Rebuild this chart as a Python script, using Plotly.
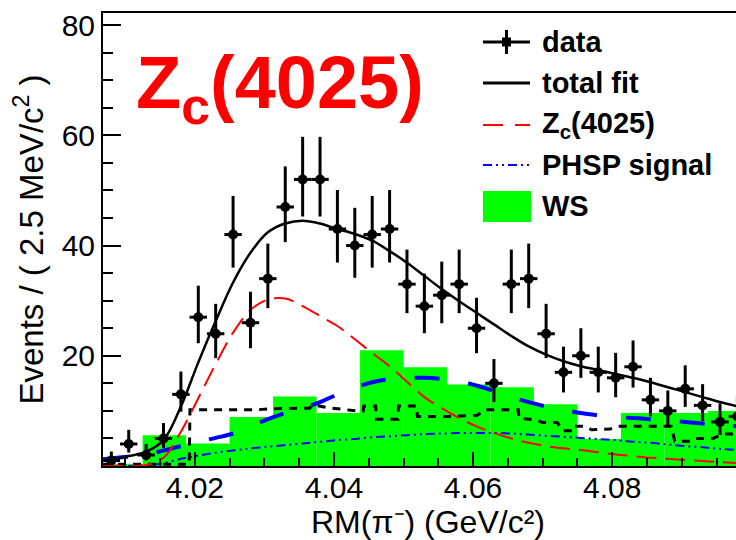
import numpy as np
import plotly.graph_objects as go

# ---- data: RM(pi-) spectrum, 2.5 MeV bins ----
data_x = [4.0080, 4.0105, 4.0130, 4.0155, 4.0180, 4.0205, 4.0230, 4.0255, 4.0280,
          4.0305, 4.0330, 4.0355, 4.0380, 4.0405, 4.0430, 4.0455, 4.0480, 4.0505,
          4.0530, 4.0555, 4.0580, 4.0605, 4.0630, 4.0655, 4.0680, 4.0705, 4.0730,
          4.0755, 4.0780, 4.0805, 4.0830, 4.0855, 4.0880, 4.0905, 4.0930, 4.0955,
          4.0980]
data_n = [1, 4, 2, 5, 13, 27, 24, 42, 26,
          34, 47, 52, 52, 43, 40, 42, 43, 33,
          29, 31, 33, 25, 15, 33, 34, 24, 17,
          20, 17, 16, 18, 12, 10, 14, 11, 8,
          9]

# ---- fit components sampled along RM(pi-) ----
fit_x = [4.0068, 4.0080, 4.0105, 4.0130, 4.0155, 4.0180, 4.0205, 4.0230, 4.0255,
         4.0280, 4.0305, 4.0330, 4.0355, 4.0380, 4.0405, 4.0430, 4.0455, 4.0480,
         4.0505, 4.0530, 4.0555, 4.0580, 4.0605, 4.0630, 4.0655, 4.0680, 4.0705,
         4.0730, 4.0755, 4.0780, 4.0805, 4.0830, 4.0855, 4.0880, 4.0905, 4.0930,
         4.0955, 4.0985]
total_fit = [1.0, 1.2, 1.8, 2.6, 4.7, 10.8, 18.8, 26.3, 33.3,
             38.7, 42.4, 44.0, 44.5, 44.0, 43.0, 42.1, 40.9, 39.0,
             36.9, 34.5, 32.1, 29.9, 27.8, 25.7, 23.6, 21.7, 20.2,
             19.0, 18.1, 17.4, 16.7, 16.0, 15.2, 14.3, 13.4, 12.5,
             11.6, 10.7]
zc_4025 = [0.0, 0.0, 0.0, 0.2, 1.5, 6.2, 12.3, 18.5, 24.2,
           28.3, 30.2, 30.4, 29.0, 27.2, 25.4, 23.0, 20.5, 18.1,
           15.3, 12.5, 10.5, 8.7, 7.2, 6.0, 5.0, 4.2, 3.6,
           3.2, 2.9, 2.5, 2.1, 1.8, 1.5, 1.3, 1.1, 0.9,
           0.7, 0.5]
bkg_total = [1.2, 1.4, 1.7, 2.1, 2.8, 3.6, 4.4, 5.1, 5.9,
             7.2, 8.5, 9.6, 10.5, 11.6, 13.0, 14.2, 15.2, 15.8,
             16.0, 16.0, 15.8, 15.4, 14.6, 13.6, 12.5, 11.6, 10.8,
             10.2, 9.6, 9.2, 8.9, 8.7, 8.5, 8.3, 8.0, 7.7,
             7.4, 7.2]
phsp_signal = [0.0, 0.0, 0.0, 0.1, 0.5, 1.3, 1.9, 2.4, 2.8,
               3.2, 3.5, 3.8, 4.1, 4.4, 4.7, 4.9, 5.2, 5.4,
               5.6, 5.8, 5.9, 6.0, 6.0, 6.0, 5.9, 5.7, 5.5,
               5.3, 5.1, 4.9, 4.7, 4.4, 4.2, 3.9, 3.6, 3.4,
               3.1, 2.9]

# ---- histogram-shaped background template ----
hist_bkg_x = [4.0068, 4.0192, 4.0193, 4.0289, 4.0312, 4.0365, 4.0370, 4.0391,
              4.0432, 4.0442, 4.0443, 4.0460, 4.0461, 4.0492, 4.0493, 4.0519,
              4.0520, 4.0563, 4.0606, 4.0617, 4.0665, 4.0666, 4.0692, 4.0700,
              4.0721, 4.0729, 4.0742, 4.0743, 4.0760, 4.0770, 4.0797, 4.0808,
              4.0885, 4.0890, 4.0915, 4.0920, 4.0945, 4.0958, 4.0985]
hist_bkg_y = [0.3, 0.3, 10.2, 10.2, 10.4, 10.5, 11.1, 10.6,
              10.0, 10.0, 10.9, 10.9, 8.5, 8.5, 10.9, 10.9,
              9.0, 9.0, 9.2, 10.2, 10.2, 8.7, 8.3, 7.9,
              7.9, 6.4, 6.4, 7.2, 7.2, 6.6, 6.7, 7.2,
              7.2, 4.5, 4.5, 5.0, 5.0, 5.8, 5.8]

# ---- wrong-sign (WS) histogram, 6.25 MeV bins ----
ws_centers = [4.009375, 4.015625, 4.021875, 4.028125, 4.034375, 4.040625,
              4.046875, 4.053125, 4.059375, 4.065625, 4.071875, 4.078125,
              4.084375, 4.090625, 4.096875]
ws_counts = [0.4, 5.6, 4.1, 8.9, 12.6, 9.6,
             21.0, 17.9, 14.8, 14.3, 11.2, 4.9,
             9.6, 9.6, 10.0]
ws_width = 0.00625

# ---- axis ticks ----
x_major = [4.02, 4.04, 4.06, 4.08]
x_major_text = ["4.02", "4.04", "4.06", "4.08"]
x_minor = [4.010, 4.015, 4.025, 4.030, 4.035, 4.045, 4.050, 4.055,
           4.065, 4.070, 4.075, 4.085, 4.090, 4.095]
y_major = [20, 40, 60, 80]
y_major_text = ["20", "40", "60", "80"]
y_minor = [5, 10, 15, 25, 30, 35, 45, 50, 55, 65, 70, 75]

X_RANGE = [4.0068, 4.0978]
Y_RANGE = [0, 82.2]

FONT = "Liberation Sans, Arial, Helvetica, sans-serif"
W, H = 736, 540
ML, MR, MT, MB = 103, 0, 13, 74
PW, PH = W - ML - MR, H - MT - MB

counts = np.array(data_n, dtype=float)
root = np.sqrt(counts + 0.25)
err_hi = 0.5 + root
err_lo = root - 0.5

fig = go.Figure()

fig.add_trace(go.Bar(
    x=ws_centers, y=ws_counts, width=ws_width,
    marker=dict(color="#00ff00", line=dict(width=0)),
    name="WS", showlegend=False))

fig.add_trace(go.Scatter(
    x=fit_x, y=phsp_signal, mode="lines", name="PHSP signal", showlegend=False,
    line=dict(color="#0000ff", width=2, shape="spline",
              dash="9px,4px,2px,4px,2px,4px")))

fig.add_trace(go.Scatter(
    x=hist_bkg_x, y=hist_bkg_y, mode="lines", showlegend=False,
    line=dict(color="black", width=3, dash="8px,7px")))

fig.add_trace(go.Scatter(
    x=fit_x, y=bkg_total, mode="lines", showlegend=False,
    line=dict(color="#0000ff", width=4, shape="spline", dash="25px,29px")))

fig.add_trace(go.Scatter(
    x=fit_x, y=zc_4025, mode="lines", name="Zc(4025)", showlegend=False,
    line=dict(color="#ff0000", width=2, shape="spline", dash="20px,9px")))

fig.add_trace(go.Scatter(
    x=fit_x, y=total_fit, mode="lines", name="total fit", showlegend=False,
    line=dict(color="black", width=2.5, shape="spline")))

fig.add_trace(go.Scatter(
    x=data_x, y=data_n, mode="markers", name="data", showlegend=False,
    marker=dict(symbol="circle", size=10, color="black"),
    error_y=dict(type="data", symmetric=False, array=err_hi, arrayminus=err_lo,
                 thickness=3, width=0, color="black"),
    error_x=dict(type="constant", value=0.00125, thickness=3, width=0,
                 color="black")))

# ---- legend drawn in pixel space of the figure ----
def px_x(px):
    return (px - ML) / PW


def px_y(py):
    return (H - MB - py) / PH


shapes = []
key_x0, key_x1 = 483, 530
rows = [42, 83, 125, 165, 206]
labels = ["data", "total fit", "Z<sub>c</sub>(4025)", "PHSP signal", "WS"]

shapes.append(dict(type="line", xref="paper", yref="paper",
                   x0=px_x(key_x0), x1=px_x(key_x1), y0=px_y(rows[0]), y1=px_y(rows[0]),
                   line=dict(color="black", width=3)))
shapes.append(dict(type="line", xref="paper", yref="paper",
                   x0=px_x(506.5), x1=px_x(506.5), y0=px_y(rows[0] - 12), y1=px_y(rows[0] + 12),
                   line=dict(color="black", width=3)))
shapes.append(dict(type="rect", xref="paper", yref="paper",
                   x0=px_x(502), x1=px_x(511), y0=px_y(rows[0] - 4.5), y1=px_y(rows[0] + 4.5),
                   fillcolor="black", line=dict(width=0)))
shapes.append(dict(type="line", xref="paper", yref="paper",
                   x0=px_x(key_x0), x1=px_x(key_x1), y0=px_y(rows[1]), y1=px_y(rows[1]),
                   line=dict(color="black", width=3)))
shapes.append(dict(type="line", xref="paper", yref="paper",
                   x0=px_x(key_x0), x1=px_x(key_x1), y0=px_y(rows[2]), y1=px_y(rows[2]),
                   line=dict(color="#ff0000", width=2, dash="20px,12px")))
shapes.append(dict(type="line", xref="paper", yref="paper",
                   x0=px_x(key_x0), x1=px_x(key_x1), y0=px_y(rows[3]), y1=px_y(rows[3]),
                   line=dict(color="#0000ff", width=2, dash="9px,4px,2px,4px,2px,4px")))
shapes.append(dict(type="rect", xref="paper", yref="paper",
                   x0=px_x(key_x0), x1=px_x(key_x1 + 1), y0=px_y(rows[4] - 15), y1=px_y(rows[4] + 16),
                   fillcolor="#00ff00", line=dict(width=0)))

annotations = []
for row, lab in zip(rows, labels):
    annotations.append(dict(
        x=px_x(540), y=px_y(row), xref="paper", yref="paper",
        xanchor="left", yanchor="middle", showarrow=False, text=lab,
        font=dict(family=FONT, size=29, color="black", weight="bold")))

annotations.append(dict(
    x=px_x(134), y=px_y(88), xref="paper", yref="paper",
    xanchor="left", yanchor="middle", showarrow=False,
    text="Z<sub>c</sub>(4025)",
    font=dict(family=FONT, size=74, color="#ff0000", weight="bold")))

# x-axis title placed just under the tick labels
annotations.append(dict(
    x=0.5 * (px_x(304) + px_x(552)), y=px_y(541), xref="paper", yref="paper",
    xanchor="center", yanchor="bottom", showarrow=False, borderpad=0,
    text="RM(π⁻) (GeV/c²)",
    font=dict(family=FONT, size=32, color="black")))

axis_common = dict(showgrid=False, zeroline=False, showline=True, linewidth=2,
                   linecolor="black", ticks="inside", tickwidth=2, tickcolor="black",
                   tickfont=dict(family=FONT, size=30, color="black"))

fig.update_layout(
    width=W, height=H,
    margin=dict(l=ML, r=MR, t=MT, b=MB, pad=0),
    paper_bgcolor="white", plot_bgcolor="white",
    showlegend=False, barmode="overlay",
    shapes=shapes, annotations=annotations,
    xaxis=dict(range=X_RANGE, tickmode="array", tickvals=x_major, ticktext=x_major_text,
               ticklen=14, mirror=True, ticklabelstandoff=-6,
               minor=dict(tickmode="array", tickvals=x_minor, ticks="inside", ticklen=8,
                          tickwidth=2, tickcolor="black", showgrid=False),
               **axis_common),
    yaxis=dict(range=Y_RANGE, tickmode="array", tickvals=y_major, ticktext=y_major_text,
               ticklen=18,
               minor=dict(tickmode="array", tickvals=y_minor, ticks="inside", ticklen=10,
                          tickwidth=2, tickcolor="black", showgrid=False),
               title=dict(text="Events / ( 2.5 MeV/c<sup>2</sup> )", standoff=8,
                          font=dict(family=FONT, size=33, color="black")),
               **axis_common),
)

fig.write_html("out.html")
